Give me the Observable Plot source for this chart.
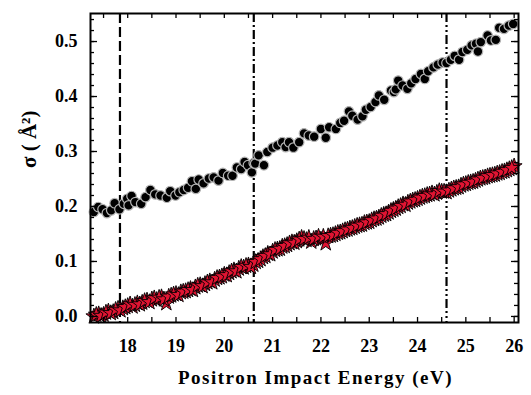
<!DOCTYPE html>
<html><head><meta charset="utf-8">
<script src="https://cdn.jsdelivr.net/npm/d3@7"></script>
<script src="https://cdn.jsdelivr.net/npm/@observablehq/plot@0.6"></script>
<style>body{margin:0;background:#fff}</style>
</head><body><div id="chart"></div>
<script>
// Upper series (circles): energy (eV) and cross section (Å²)
const circleEnergy = [17.30,17.39,17.48,17.57,17.66,17.73,17.83,17.92,17.99,18.02,18.08,18.16,18.28,18.37,18.47,18.57,18.68,18.81,18.88,18.99,
  19.07,19.16,19.25,19.33,19.41,19.47,19.57,19.68,19.78,19.88,19.97,20.08,20.17,20.26,20.35,20.42,20.49,20.57,20.61,20.64,
  20.71,20.82,20.89,21.00,21.10,21.20,21.27,21.34,21.43,21.55,21.65,21.75,21.86,22.00,22.10,22.17,22.31,22.40,22.48,22.58,
  22.65,22.76,22.86,22.93,23.03,23.13,23.20,23.31,23.45,23.51,23.55,23.60,23.69,23.79,23.87,23.96,24.07,24.15,24.22,24.33,
  24.42,24.52,24.60,24.69,24.77,24.86,24.93,25.03,25.12,25.21,25.25,25.31,25.45,25.52,25.62,25.69,25.79,25.89,25.98];
const circleSigma = [0.190,0.199,0.195,0.188,0.193,0.206,0.195,0.205,0.214,0.202,0.219,0.208,0.205,0.217,0.230,0.222,0.220,0.216,0.228,0.220,
  0.226,0.230,0.234,0.246,0.232,0.249,0.242,0.251,0.253,0.247,0.261,0.256,0.256,0.271,0.268,0.281,0.275,0.262,0.279,0.278,
  0.293,0.275,0.299,0.307,0.311,0.317,0.308,0.317,0.307,0.317,0.333,0.329,0.327,0.341,0.325,0.344,0.341,0.352,0.356,0.373,
  0.365,0.358,0.364,0.376,0.381,0.390,0.402,0.394,0.411,0.408,0.413,0.429,0.420,0.414,0.424,0.432,0.441,0.432,0.446,0.453,
  0.458,0.462,0.461,0.467,0.474,0.467,0.481,0.485,0.493,0.496,0.482,0.499,0.511,0.502,0.503,0.525,0.523,0.529,0.532];

// Lower series (stars), read in two interleaved passes
const starEnergy = [17.30,17.40,17.50,17.60,17.70,17.80,17.90,18.00,18.10,18.20,18.30,18.40,18.50,18.60,18.70,18.80,18.90,19.00,19.10,19.20,
  19.30,19.40,19.50,19.60,19.70,19.80,19.90,20.00,20.10,20.20,20.30,20.40,20.50,20.60,20.70,20.80,20.90,21.00,21.10,21.20,
  21.30,21.40,21.50,21.60,21.70,21.80,21.90,22.00,22.10,22.20,22.30,22.40,22.50,22.60,22.70,22.80,22.90,23.00,23.10,23.20,
  23.30,23.40,23.50,23.60,23.70,23.80,23.90,24.00,24.10,24.20,24.30,24.40,24.50,24.60,24.70,24.80,24.90,25.00,25.10,25.20,
  25.30,25.40,25.50,25.60,25.70,25.80,25.90,26.00];
const starSigma = [0.000,0.004,0.003,0.009,0.008,0.014,0.015,0.019,0.018,0.024,0.025,0.029,0.031,0.030,0.035,0.024,0.038,0.041,0.044,0.046,
  0.050,0.053,0.057,0.059,0.064,0.067,0.071,0.076,0.079,0.084,0.087,0.089,0.093,0.094,0.101,0.108,0.114,0.118,0.122,0.127,
  0.130,0.135,0.137,0.143,0.139,0.136,0.142,0.140,0.133,0.147,0.150,0.153,0.157,0.160,0.163,0.166,0.170,0.172,0.177,0.180,
  0.185,0.189,0.194,0.199,0.204,0.207,0.211,0.214,0.218,0.221,0.224,0.225,0.227,0.226,0.231,0.234,0.238,0.241,0.244,0.247,
  0.251,0.253,0.256,0.258,0.261,0.264,0.268,0.273];
const starEnergyB = [17.35,17.45,17.55,17.65,17.75,17.85,17.95,18.05,18.15,18.25,18.35,18.45,18.55,18.65,18.75,18.85,18.95,19.05,19.15,19.25,
  19.35,19.45,19.55,19.65,19.75,19.85,19.95,20.05,20.15,20.25,20.35,20.45,20.55,20.65,20.75,20.85,20.95,21.05,21.15,21.25,
  21.35,21.45,21.55,21.65,21.75,21.85,21.95,22.05,22.15,22.25,22.35,22.45,22.55,22.65,22.75,22.85,22.95,23.05,23.15,23.25,
  23.35,23.45,23.55,23.65,23.75,23.85,23.95,24.05,24.15,24.25,24.35,24.45,24.55,24.65,24.75,24.85,24.95,25.05,25.15,25.25,
  25.35,25.45,25.55,25.65,25.75,25.85,25.95];
const starSigmaB = [0.003,0.001,0.007,0.006,0.012,0.011,0.017,0.022,0.021,0.022,0.028,0.026,0.033,0.034,0.031,0.036,0.040,0.039,0.045,0.048,
  0.048,0.056,0.055,0.062,0.062,0.070,0.073,0.075,0.082,0.082,0.090,0.092,0.090,0.099,0.104,0.110,0.113,0.121,0.123,0.128,
  0.133,0.134,0.140,0.141,0.143,0.141,0.145,0.145,0.146,0.148,0.152,0.155,0.158,0.161,0.165,0.167,0.171,0.175,0.178,0.183,
  0.186,0.192,0.196,0.201,0.203,0.209,0.212,0.216,0.219,0.222,0.222,0.228,0.227,0.229,0.233,0.235,0.240,0.243,0.245,0.249,
  0.252,0.255,0.257,0.260,0.263,0.266,0.270];

// Threshold lines (eV)
const thresholdEnergy = [17.84, 20.61, 24.60];
const thresholdDash = ["10,4", "9,3,2,3", "9,3,2,3,2,3"];

// Axis ticks
const xTickLabels = [18, 19, 20, 21, 22, 23, 24, 25, 26];
const yTickLabels = [0.0, 0.1, 0.2, 0.3, 0.4, 0.5];
const xMinorTicks = [17.5,18,18.5,19,19.5,20,20.5,21,21.5,22,22.5,23,23.5,24,24.5,25,25.5,26];
const yMinorTicks = [0,0.02,0.04,0.06,0.08,0.1,0.12,0.14,0.16,0.18,0.2,0.22,0.24,0.26,0.28,0.3,0.32,0.34,0.36,0.38,0.4,0.42,0.44,0.46,0.48,0.5,0.52,0.54];

const xLabel = "Positron Impact Energy (eV)";
const yLabel = "σ ( Å²)";

const circles = circleEnergy.map((e, i) => ({e, s: circleSigma[i]}));
const stars = starEnergy.map((e, i) => ({e, s: starSigma[i]}))
  .concat(starEnergyB.map((e, i) => ({e, s: starSigmaB[i]})));

const W = 531, H = 395, mL = 90, mR = 13, mT = 13, mB = 73;
const fw = W - mL - mR, fh = H - mT - mB;

const chart = Plot.plot({
  width: W, height: H,
  marginLeft: mL, marginRight: mR, marginTop: mT, marginBottom: mB,
  x: {domain: [17.23, 26.09]},
  y: {domain: [-0.011, 0.551]},
  style: {fontFamily: "Liberation Serif", background: "white", color: "black"},
  marks: [
    ...thresholdEnergy.map((e, i) => Plot.ruleX([e], {x: d => d, stroke: "black", strokeWidth: 2.2, strokeDasharray: thresholdDash[i]})),
    Plot.dot(circles, {x: "e", y: "s", r: 4.8, fill: "black", stroke: "#b5b5b5", strokeWidth: 1.2}),
    Plot.dot(stars, {x: "e", y: "s", symbol: "star", r: 5, fill: "#e01432", stroke: "black", strokeWidth: 0.9}),
    Plot.ruleX(xMinorTicks, {x: d => d, insetTop: fh - 5, stroke: "black", strokeWidth: 1.3}),
    Plot.ruleX(xMinorTicks, {x: d => d, insetBottom: fh - 5, stroke: "black", strokeWidth: 1.3}),
    Plot.ruleY(yMinorTicks, {y: d => d, insetRight: fw - 4, stroke: "black", strokeWidth: 1.3}),
    Plot.ruleY(yMinorTicks, {y: d => d, insetLeft: fw - 4, stroke: "black", strokeWidth: 1.3}),
    Plot.ruleY(yTickLabels, {y: d => d, insetRight: fw - 7, stroke: "black", strokeWidth: 1.3}),
    Plot.ruleY(yTickLabels, {y: d => d, insetLeft: fw - 7, stroke: "black", strokeWidth: 1.3}),
    Plot.frame({stroke: "black", strokeWidth: 2}),
    Plot.axisX(xTickLabels, {tickSize: 0, tickPadding: 17, fontSize: 18, fontWeight: "bold", tickFormat: d => String(d), label: null}),
    Plot.axisY(yTickLabels, {tickSize: 0, tickPadding: 13, fontSize: 18, fontWeight: "bold", tickFormat: d => d.toFixed(1), label: null}),
    Plot.text([xLabel], {text: d => d, frameAnchor: "bottom", dx: 11, dy: 61, fontSize: 19, fontWeight: "bold"}),
    Plot.text([yLabel], {text: d => d, frameAnchor: "left", dx: -61, rotate: -90, fontSize: 21, fontWeight: "bold"})
  ]
});
d3.select(chart).selectAll("text").filter(function() { return this.textContent === xLabel; }).style("letter-spacing", "1.5px");
document.getElementById("chart").appendChild(chart);
</script>
</body></html>
